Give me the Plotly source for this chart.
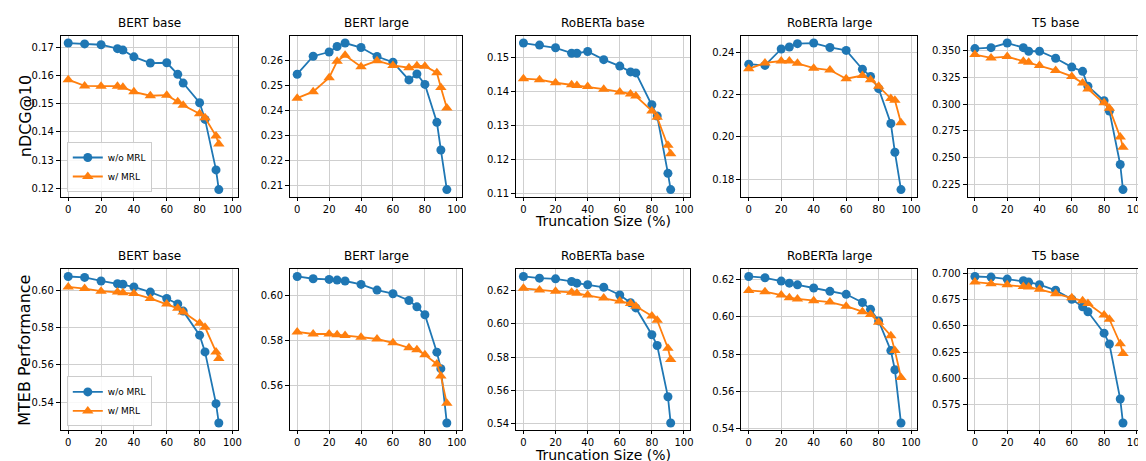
import plotly.graph_objects as go

# ---------------- data ----------------
x_base = [0, 10, 20, 30, 33.3, 40, 50, 60, 66.7, 70, 80, 83.3, 90, 91.7]
x_large = [0, 10, 20, 25, 30, 40, 50, 60, 70, 75, 80, 87.5, 90, 93.75]

models = ["BERT base", "BERT large", "RoBERTa base", "RoBERTa large", "T5 base"]
series_names = ["w/o MRL", "w/ MRL"]
row_labels = ["nDCG@10", "MTEB Performance"]
x_label = "Truncation Size (%)"
x_ticks = [0, 20, 40, 60, 80, 100]

# nDCG@10 (top row)
ndcg_bert_base_wo = [0.1715, 0.1712, 0.1709, 0.1695, 0.1690, 0.1666, 0.1644, 0.1645, 0.1604, 0.1573, 0.1503, 0.1444, 0.1265, 0.1195]
ndcg_bert_base_w = [0.1585, 0.1563, 0.1562, 0.1562, 0.1558, 0.1542, 0.1528, 0.1530, 0.1507, 0.1494, 0.1464, 0.1450, 0.1385, 0.1357]
ndcg_bert_large_wo = [0.2545, 0.2617, 0.2634, 0.2656, 0.2670, 0.2652, 0.2616, 0.2593, 0.2522, 0.2546, 0.2504, 0.2352, 0.2241, 0.2082]
ndcg_bert_large_w = [0.2449, 0.2475, 0.2531, 0.2597, 0.2621, 0.2575, 0.2599, 0.2580, 0.2571, 0.2579, 0.2577, 0.2551, 0.2492, 0.2409]
ndcg_roberta_base_wo = [0.1543, 0.1537, 0.1529, 0.1513, 0.1513, 0.1518, 0.1494, 0.1475, 0.1458, 0.1455, 0.1361, 0.1328, 0.1159, 0.1111]
ndcg_roberta_base_w = [0.1438, 0.1435, 0.1426, 0.1420, 0.1418, 0.1415, 0.1407, 0.1399, 0.1393, 0.1387, 0.1343, 0.1324, 0.1242, 0.1217]
ndcg_roberta_large_wo = [0.2344, 0.2338, 0.2416, 0.2425, 0.2441, 0.2444, 0.2423, 0.2409, 0.2320, 0.2286, 0.2228, 0.2063, 0.1927, 0.1750]
ndcg_roberta_large_w = [0.2322, 0.2350, 0.2359, 0.2359, 0.2348, 0.2325, 0.2316, 0.2275, 0.2290, 0.2270, 0.2239, 0.2181, 0.2173, 0.2067]
ndcg_t5_base_wo = [0.3519, 0.3528, 0.3571, 0.3528, 0.3494, 0.3494, 0.3429, 0.3346, 0.3306, 0.3167, 0.3031, 0.2935, 0.2435, 0.2200]
ndcg_t5_base_w = [0.3463, 0.3432, 0.3444, 0.3401, 0.3392, 0.3361, 0.3315, 0.3259, 0.3198, 0.3142, 0.3012, 0.2960, 0.2691, 0.2596]

# MTEB performance (bottom row)
mteb_bert_base_wo = [0.6074, 0.6069, 0.6050, 0.6035, 0.6032, 0.6018, 0.5990, 0.5956, 0.5926, 0.5888, 0.5759, 0.5669, 0.5391, 0.5287]
mteb_bert_base_w = [0.6018, 0.6009, 0.5995, 0.5990, 0.5986, 0.5982, 0.5956, 0.5926, 0.5903, 0.5883, 0.5823, 0.5802, 0.5669, 0.5634]
mteb_bert_large_wo = [0.6083, 0.6073, 0.6070, 0.6067, 0.6063, 0.6048, 0.6023, 0.6007, 0.5977, 0.5949, 0.5914, 0.5749, 0.5676, 0.5436]
mteb_bert_large_w = [0.5838, 0.5829, 0.5829, 0.5826, 0.5822, 0.5815, 0.5807, 0.5790, 0.5768, 0.5760, 0.5737, 0.5697, 0.5644, 0.5523]
mteb_roberta_base_wo = [0.6285, 0.6275, 0.6271, 0.6255, 0.6245, 0.6235, 0.6220, 0.6174, 0.6127, 0.6096, 0.5935, 0.5870, 0.5562, 0.5404]
mteb_roberta_base_w = [0.6214, 0.6204, 0.6196, 0.6190, 0.6184, 0.6174, 0.6155, 0.6137, 0.6123, 0.6106, 0.6047, 0.6022, 0.5854, 0.5786]
mteb_roberta_large_wo = [0.6218, 0.6211, 0.6193, 0.6182, 0.6173, 0.6156, 0.6138, 0.6122, 0.6078, 0.6041, 0.5979, 0.5819, 0.5716, 0.5429]
mteb_roberta_large_w = [0.6143, 0.6136, 0.6118, 0.6104, 0.6097, 0.6087, 0.6080, 0.6058, 0.6028, 0.6014, 0.5972, 0.5899, 0.5819, 0.5674]
mteb_t5_base_wo = [0.6969, 0.6963, 0.6944, 0.6928, 0.6916, 0.6891, 0.6838, 0.6753, 0.6681, 0.6634, 0.6431, 0.6328, 0.5806, 0.5578]
mteb_t5_base_w = [0.6916, 0.6900, 0.6891, 0.6875, 0.6869, 0.6847, 0.6806, 0.6766, 0.6738, 0.6713, 0.6603, 0.6563, 0.6331, 0.6238]

# y tick labels per panel
yticks_top = [
    [0.12, 0.13, 0.14, 0.15, 0.16, 0.17],
    [0.21, 0.22, 0.23, 0.24, 0.25, 0.26, 0.27],
    [0.11, 0.12, 0.13, 0.14, 0.15],
    [0.18, 0.20, 0.22, 0.24],
    [0.225, 0.250, 0.275, 0.300, 0.325, 0.350],
]
yticks_bottom = [
    [0.54, 0.56, 0.58, 0.60],
    [0.56, 0.58, 0.60],
    [0.54, 0.56, 0.58, 0.60, 0.62],
    [0.54, 0.56, 0.58, 0.60, 0.62],
    [0.575, 0.600, 0.625, 0.650, 0.675, 0.700],
]

top_wo = [ndcg_bert_base_wo, ndcg_bert_large_wo, ndcg_roberta_base_wo, ndcg_roberta_large_wo, ndcg_t5_base_wo]
top_w = [ndcg_bert_base_w, ndcg_bert_large_w, ndcg_roberta_base_w, ndcg_roberta_large_w, ndcg_t5_base_w]
bot_wo = [mteb_bert_base_wo, mteb_bert_large_wo, mteb_roberta_base_wo, mteb_roberta_large_wo, mteb_t5_base_wo]
bot_w = [mteb_bert_base_w, mteb_bert_large_w, mteb_roberta_base_w, mteb_roberta_large_w, mteb_t5_base_w]
x_for_model = [x_base, x_large, x_base, x_large, x_base]

# ---------------- layout ----------------
W, H = 1146, 461
FONT = "DejaVu Sans"
BLUE, ORANGE = "#1f77b4", "#ff7f0e"

col_px = [(53, 231), (283, 456), (510, 684), (736, 912), (963, 1138)]
row_px = [(27, 190), (263, 426)]

fig = go.Figure()
layout = {}
annotations = []

for r in range(2):
    ys_wo = top_wo if r == 0 else bot_wo
    ys_w = top_w if r == 0 else bot_w
    yt = yticks_top if r == 0 else yticks_bottom
    for c in range(5):
        k = r * 5 + c + 1
        xs = "x" if k == 1 else f"x{k}"
        ysn = "y" if k == 1 else f"y{k}"
        xv = x_for_model[c]
        legend_name = "legend" if r == 0 else "legend2"
        for name, yv, color, sym, msize in [
            (series_names[0], ys_wo[c], BLUE, "circle", 9),
            (series_names[1], ys_w[c], ORANGE, "triangle-up", 10),
        ]:
            fig.add_trace(go.Scatter(
                x=xv, y=yv, mode="lines+markers", name=name,
                line=dict(color=color, width=1.8),
                marker=dict(symbol=sym, size=msize, color=color, line=dict(width=0)),
                xaxis=xs, yaxis=ysn, legend=legend_name,
                showlegend=(c == 0),
            ))
        allv = list(ys_wo[c]) + list(ys_w[c])
        lo, hi = min(allv), max(allv)
        pad = (hi - lo) * 0.05
        x0, x1 = col_px[c]
        t0, t1 = row_px[r]
        fmt = ".3f" if c == 4 else ".2f"
        ax_common = dict(
            showline=True, linecolor="black", linewidth=1, mirror=True,
            ticks="outside", tickwidth=1, tickcolor="black",
            showgrid=True, gridcolor="#cfcfcf", gridwidth=1, zeroline=False,
            tickfont=dict(family=FONT, size=10, color="black"),
        )
        layout[f"xaxis{'' if k == 1 else k}"] = dict(
            ax_common, domain=[x0 / W, x1 / W], anchor=ysn, ticklen=3,
            range=[-4.5, 103.5], tickmode="array", tickvals=x_ticks,
        )
        layout[f"yaxis{'' if k == 1 else k}"] = dict(
            ax_common, domain=[1 - t1 / H, 1 - t0 / H], anchor=xs, ticklen=4,
            range=[lo - pad, hi + pad], tickmode="array", tickvals=yt[c],
            tickformat=fmt,
        )
        annotations.append(dict(
            text=models[c], xref="paper", yref="paper",
            x=(x0 + x1) / 2 / W, y=1 - (t0 - 13) / H, xanchor="center", yanchor="middle",
            showarrow=False, font=dict(family=FONT, size=12, color="black"),
        ))
    annotations.append(dict(
        text=row_labels[r], xref="paper", yref="paper", textangle=-90,
        x=17 / W, y=1 - (row_px[r][0] + row_px[r][1]) / 2 / H,
        xanchor="center", yanchor="middle", showarrow=False,
        font=dict(family=FONT, size=16, color="black"),
    ))
    label_bottom = row_px[r][1] + 33 if r == 0 else H - 1
    annotations.append(dict(
        text=x_label, xref="paper", yref="paper",
        x=597 / W, y=1 - label_bottom / H,
        xanchor="center", yanchor="bottom", showarrow=False, borderpad=0,
        font=dict(family=FONT, size=14, color="black"),
    ))

legend_style = dict(
    bgcolor="rgba(255,255,255,0.85)", bordercolor="#cccccc", borderwidth=1,
    font=dict(family=FONT, size=9, color="black"),
    xanchor="left", yanchor="bottom", itemwidth=30, tracegroupgap=0,
)
layout["legend"] = dict(legend_style, x=59 / W, y=1 - 185 / H)
layout["legend2"] = dict(legend_style, x=59 / W, y=1 - 422 / H)

fig.update_layout(
    width=W, height=H,
    margin=dict(l=0, r=0, t=0, b=0),
    paper_bgcolor="white", plot_bgcolor="white",
    font=dict(family=FONT, color="black"),
    annotations=annotations,
    **layout,
)

fig.write_html("out.html", config={"displayModeBar": False})
